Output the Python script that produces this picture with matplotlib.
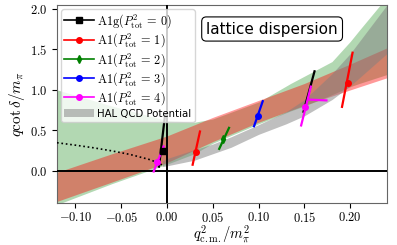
import matplotlib
matplotlib.use("Agg")
import matplotlib.pyplot as plt
from matplotlib.lines import Line2D
from matplotlib.ticker import FormatStrFormatter

plt.rcParams['mathtext.fontset'] = 'cm'

# --- bandas ---
verde_x = [-0.12, -0.06, 0.0, 0.03, 0.05, 0.10, 0.135, 0.15, 0.18, 0.20, 0.21, 0.24]
verde_lo = [-0.42, -0.16, 0.08, 0.21, 0.34, 0.58, 0.74, 0.80, 0.94, 1.04, 1.08, 1.19]
verde_hi = [1.00, 0.80, 0.62, 0.60, 0.64, 0.85, 1.08, 1.17, 1.35, 1.60, 1.74, 2.15]

rojo_x = [-0.12, -0.06, 0.0, 0.05, 0.10, 0.15, 0.20, 0.24]
rojo_lo = [-0.38, -0.14, 0.10, 0.36, 0.60, 0.81, 1.00, 1.15]
rojo_hi = [-0.02, 0.21, 0.43, 0.66, 0.87, 1.08, 1.32, 1.52]

hal_x = [-0.005, 0.0, 0.03, 0.05, 0.07, 0.10, 0.13, 0.15, 0.18, 0.20, 0.22, 0.24]
hal_lo = [0.05, 0.06, 0.13, 0.21, 0.29, 0.45, 0.58, 0.68, 0.88, 1.05, 1.25, 1.45]
hal_hi = [0.12, 0.15, 0.26, 0.33, 0.42, 0.57, 0.73, 0.88, 1.20, 1.45, 1.75, 2.05]

# curva punteada (estado ligado)
punt_x = [-0.12, -0.10, -0.08, -0.06, -0.04, -0.02, -0.01, -0.003]
punt_y = [0.346, 0.316, 0.283, 0.245, 0.20, 0.141, 0.10, 0.055]

# --- puntos con barras inclinadas ---
etiquetas = [r'$\mathrm{A1g}(P^2_{\mathrm{tot}}\,=\,0)$', r'$\mathrm{A1}(P^2_{\mathrm{tot}}\,=\,1)$',
             r'$\mathrm{A1}(P^2_{\mathrm{tot}}\,=\,2)$', r'$\mathrm{A1}(P^2_{\mathrm{tot}}\,=\,3)$',
             r'$\mathrm{A1}(P^2_{\mathrm{tot}}\,=\,4)$']
colores = ['black', 'red', 'green', 'blue', 'magenta']
marcadores = ['s', 'o', 'd', 'o', 'o']

px = [[-0.0047, 0.155], [0.0315, 0.1975], [0.0616], [0.0997], [-0.011, 0.151]]
py = [[0.24, 0.90], [0.226, 1.08], [0.39], [0.68], [0.107, 0.79]]
x_lo = [[-0.0087, 0.149], [0.028, 0.191], [0.057], [0.095], [-0.0145, 0.1464]]
y_lo = [[0.05, 0.73], [0.074, 0.79], [0.27], [0.55], [-0.01, 0.56]]
x_hi = [[-0.002, 0.161], [0.036, 0.2025], [0.0677], [0.1045], [-0.0037, 0.157]]
y_hi = [[0.70, 1.23], [0.485, 1.46], [0.53], [0.86], [0.30, 1.04]]
visible = [[True, False], [True, True], [True], [True], [True, True]]

# barra horizontal extra del punto magenta
mag_h_x = [0.154, 0.174]
mag_h_y = [0.88, 0.87]

fig = plt.figure(figsize=(3.97, 2.45), dpi=100)
ax = fig.add_axes([0.1436, 0.1714, 0.831, 0.808])

ax.fill_between(verde_x, verde_lo, verde_hi, color='green', alpha=0.3, lw=0)
ax.fill_between(rojo_x, rojo_lo, rojo_hi, color='red', alpha=0.4, lw=0)
hal = ax.fill_between(hal_x, hal_lo, hal_hi, color='gray', alpha=0.5, lw=0,
                      label='HAL QCD Potential')

ax.axhline(0, color='black', lw=1.4, zorder=3)
ax.axvline(0, color='black', lw=1.4, zorder=3)
ax.plot(punt_x, punt_y, ':', color='black', lw=1.2, zorder=3)

for i in range(len(etiquetas)):
    for j in range(len(px[i])):
        ax.plot([x_lo[i][j], x_hi[i][j]], [y_lo[i][j], y_hi[i][j]],
                color=colores[i], lw=1.6, zorder=4)
        if visible[i][j]:
            ax.plot(px[i][j], py[i][j], marker=marcadores[i], color=colores[i],
                    ms=4, zorder=5)
ax.plot(mag_h_x, mag_h_y, color='magenta', lw=1.6, zorder=4)

ax.set_xlim(-0.12, 0.24)
ax.set_ylim(-0.4, 2.05)
ax.set_xticks([-0.10, -0.05, 0.0, 0.05, 0.10, 0.15, 0.20])
ax.set_yticks([0.0, 0.5, 1.0, 1.5, 2.0])
ax.xaxis.set_major_formatter(FormatStrFormatter(r'$%.2f$'))
ax.yaxis.set_major_formatter(FormatStrFormatter(r'$%.1f$'))
ax.tick_params(labelsize=9)
ax.tick_params(axis='x', pad=2)
for s in ax.spines.values():
    s.set_color('0.4')

ax.set_xlabel(r'$q^2_{\mathrm{c.m.}}/m_\pi^2$', fontsize=10.5, labelpad=-0.5)
ax.set_ylabel(r'$q\cot\delta/m_\pi$', fontsize=11, labelpad=2)

handles = [Line2D([], [], color=c, marker=m, ms=4, lw=1.2)
           for c, m in zip(colores, marcadores)]
handles.append(hal)
leg = ax.legend(handles, etiquetas + ['HAL QCD Potential'], loc='upper left',
                fontsize=8.8, handlelength=2.4, borderaxespad=0.35,
                labelspacing=0.12, handletextpad=0.3, borderpad=0.25)
leg.get_texts()[-1].set_fontsize(7.3)

ax.text(0.652, 0.879, 'lattice dispersion', transform=ax.transAxes,
        ha='center', va='center', fontsize=11,
        bbox=dict(boxstyle='round,pad=0.3', fc='white', ec='black', lw=0.8))

fig.savefig('out.png', dpi=100)
